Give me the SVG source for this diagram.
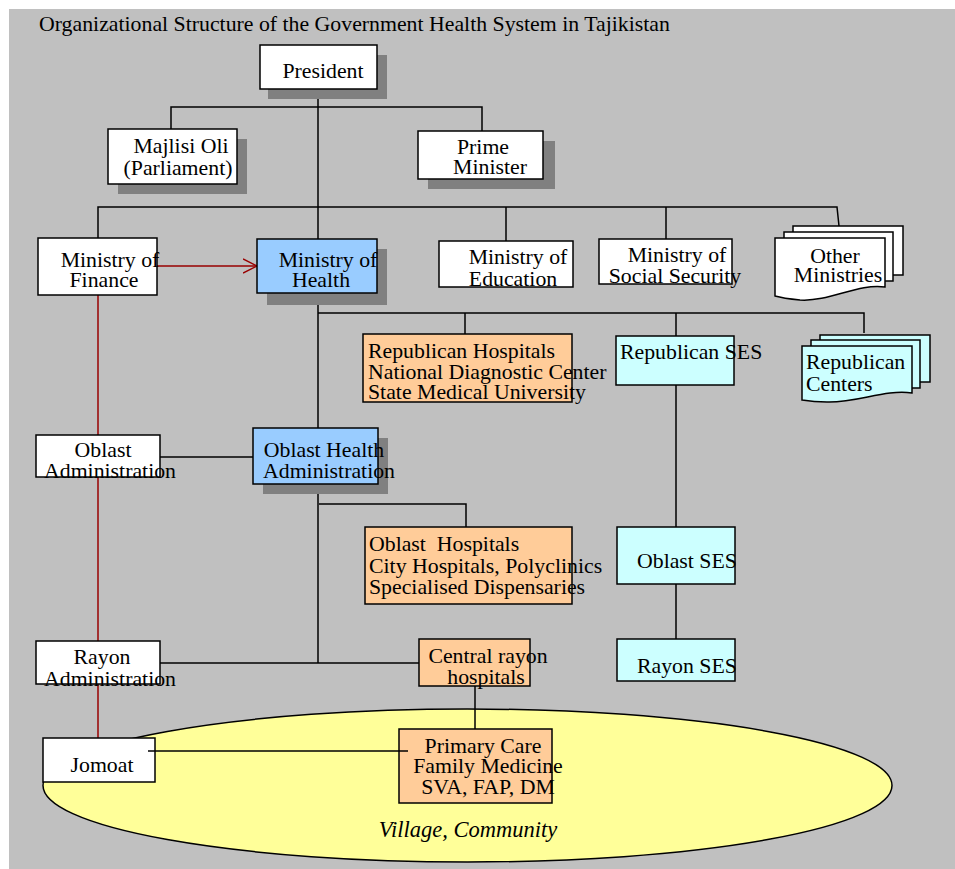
<svg xmlns="http://www.w3.org/2000/svg" width="955" height="869" viewBox="0 0 955 869">
<defs>
<style>
.bg{fill:#C0C0C0}
.box{stroke:#000;stroke-width:1.5}
.w{fill:#FFFFFF}
.b{fill:#99CCFF}
.o{fill:#FFCC99}
.c{fill:#CCFFFF}
.sh{fill:#808080}
text{font-family:"Liberation Serif","Times New Roman",serif;font-size:21.8px;fill:#000}
.m{text-anchor:middle}
.it{font-style:italic;font-size:22.5px}
.ln{stroke:#000;stroke-width:1.5;fill:none}
.red{stroke:#990000;stroke-width:1.5;fill:none}
</style>
<marker id="arr" markerWidth="16" markerHeight="16" refX="14" refY="8" orient="auto" markerUnits="userSpaceOnUse">
<path d="M0,1 L14,8 L0,15" fill="none" stroke="#990000" stroke-width="1.5"/>
</marker>
</defs>
<rect class="bg" x="9" y="9" width="946" height="860"/>
<text x="39" y="31">Organizational Structure of the Government Health System in Tajikistan</text>

<g id="village">
<ellipse cx="467.5" cy="785.5" rx="424.5" ry="76.5" fill="#FFFF99" stroke="#000" stroke-width="1.5"/>
<text class="it m" x="468" y="837">Village, Community</text>
</g>

<g id="connectors">
<path class="ln" d="M318,89 V239 M171,129 V107 H482 V131"/>
<path class="ln" d="M98,238 V207 H837 L839,226 M506,207 V241 M666,207 V239"/>
<path class="ln" d="M318,293 V428 M318,313 H864 V333 M465,313 V334 M676,313 V336"/>
<path class="ln" d="M676,385 V527 M676,584 V639"/>
<path class="ln" d="M160,457 H253"/>
<path class="ln" d="M318,484 V663 M160,663 H419 M319,504 H466 V527"/>
<path class="ln" d="M475,686 V729"/>
<path class="red" d="M98,295 V738"/>
<path class="red" d="M157,266 H257" marker-end="url(#arr)"/>
</g>

<g id="president">
<rect class="sh" x="268" y="55" width="119" height="44"/>
<rect class="box w" x="260" y="45" width="117" height="44"/>
<text class="m" x="323" y="78">President</text>
</g>
<g id="majlisi">
<rect class="sh" x="118" y="139" width="129" height="55"/>
<rect class="box w" x="108" y="129" width="129" height="55"/>
<text class="m" x="181" y="153">Majlisi Oli</text>
<text class="m" x="178" y="175">(Parliament)</text>
</g>
<g id="prime-minister">
<rect class="sh" x="428" y="141" width="127" height="48"/>
<rect class="box w" x="418" y="131" width="125" height="48"/>
<text class="m" x="483" y="154">Prime</text>
<text class="m" x="490" y="174">Minister</text>
</g>
<g id="ministry-finance">
<rect class="box w" x="38" y="238" width="119" height="57"/>
<text class="m" x="110" y="267">Ministry of</text>
<text class="m" x="104" y="287">Finance</text>
</g>
<g id="ministry-health">
<rect class="sh" x="267" y="249" width="120" height="56"/>
<rect class="box b" x="257" y="239" width="120" height="54"/>
<text class="m" x="328" y="267">Ministry of</text>
<text class="m" x="321" y="287">Health</text>
</g>
<g id="ministry-education">
<rect class="box w" x="439" y="241" width="134" height="46"/>
<text class="m" x="518" y="264">Ministry of</text>
<text class="m" x="513" y="286">Education</text>
</g>
<g id="ministry-social">
<rect class="box w" x="599" y="239" width="133" height="45"/>
<text class="m" x="677" y="262">Ministry of</text>
<text class="m" x="675" y="283">Social Security</text>
</g>
<g id="other-ministries">
<rect class="box w" x="793" y="226" width="110" height="49"/>
<rect class="box w" x="784" y="232" width="109" height="49"/>
<path class="box w" d="M775,238 H885 V287 C858,283 830,302 800,300 C790,299 782,298 775,296 Z"/>
<text class="m" x="835" y="263">Other</text>
<text class="m" x="838" y="282">Ministries</text>
</g>
<g id="republican-hospitals">
<rect class="box o" x="363" y="334" width="209" height="68"/>
<text x="368" y="358">Republican Hospitals</text>
<text x="368" y="379">National Diagnostic Center</text>
<text x="368" y="399">State Medical University</text>
</g>
<g id="republican-ses">
<rect class="box c" x="616" y="336" width="118" height="49"/>
<text x="620" y="359">Republican SES</text>
</g>
<g id="republican-centers">
<rect class="box c" x="820" y="335" width="110" height="47"/>
<rect class="box c" x="811" y="340" width="109" height="48"/>
<path class="box c" d="M802,346 H912 V393 C885,389 857,403 827,402 C815,402 808,401 802,400 Z"/>
<text x="806" y="369">Republican</text>
<text x="806" y="391">Centers</text>
</g>
<g id="oblast-administration">
<rect class="box w" x="36" y="435" width="124" height="42"/>
<text class="m" x="103" y="457">Oblast</text>
<text class="m" x="110" y="478">Administration</text>
</g>
<g id="oblast-health">
<rect class="sh" x="263" y="438" width="125" height="56"/>
<rect class="box b" x="253" y="428" width="125" height="56"/>
<text class="m" x="324" y="457">Oblast Health</text>
<text class="m" x="329" y="478">Administration</text>
</g>
<g id="oblast-hospitals">
<rect class="box o" x="365" y="527" width="207" height="77"/>
<text x="369" y="551" xml:space="preserve">Oblast  Hospitals</text>
<text x="369" y="573">City Hospitals, Polyclinics</text>
<text x="369" y="594">Specialised Dispensaries</text>
</g>
<g id="oblast-ses">
<rect class="box c" x="617" y="527" width="118" height="57"/>
<text x="637" y="568">Oblast SES</text>
</g>
<g id="rayon-administration">
<rect class="box w" x="36" y="641" width="124" height="43"/>
<text class="m" x="102" y="664">Rayon</text>
<text class="m" x="110" y="686">Administration</text>
</g>
<g id="central-rayon">
<rect class="box o" x="419" y="639" width="111" height="47"/>
<text class="m" x="488" y="663">Central rayon</text>
<text class="m" x="486" y="684">hospitals</text>
</g>
<g id="rayon-ses">
<rect class="box c" x="617" y="639" width="118" height="42"/>
<text x="637" y="673">Rayon SES</text>
</g>
<g id="jomoat">
<rect class="box w" x="43" y="738" width="112" height="44"/>
<text class="m" x="102" y="772">Jomoat</text>
</g>
<g id="primary-care">
<rect class="box o" x="399" y="729" width="153" height="74"/>
<text class="m" x="483" y="753">Primary Care</text>
<text class="m" x="488" y="773">Family Medicine</text>
<text class="m" x="488" y="794">SVA, FAP, DM</text>
</g>
<g id="jomoat-link">
<path class="ln" d="M148,751 H408"/>
</g>
</svg>
